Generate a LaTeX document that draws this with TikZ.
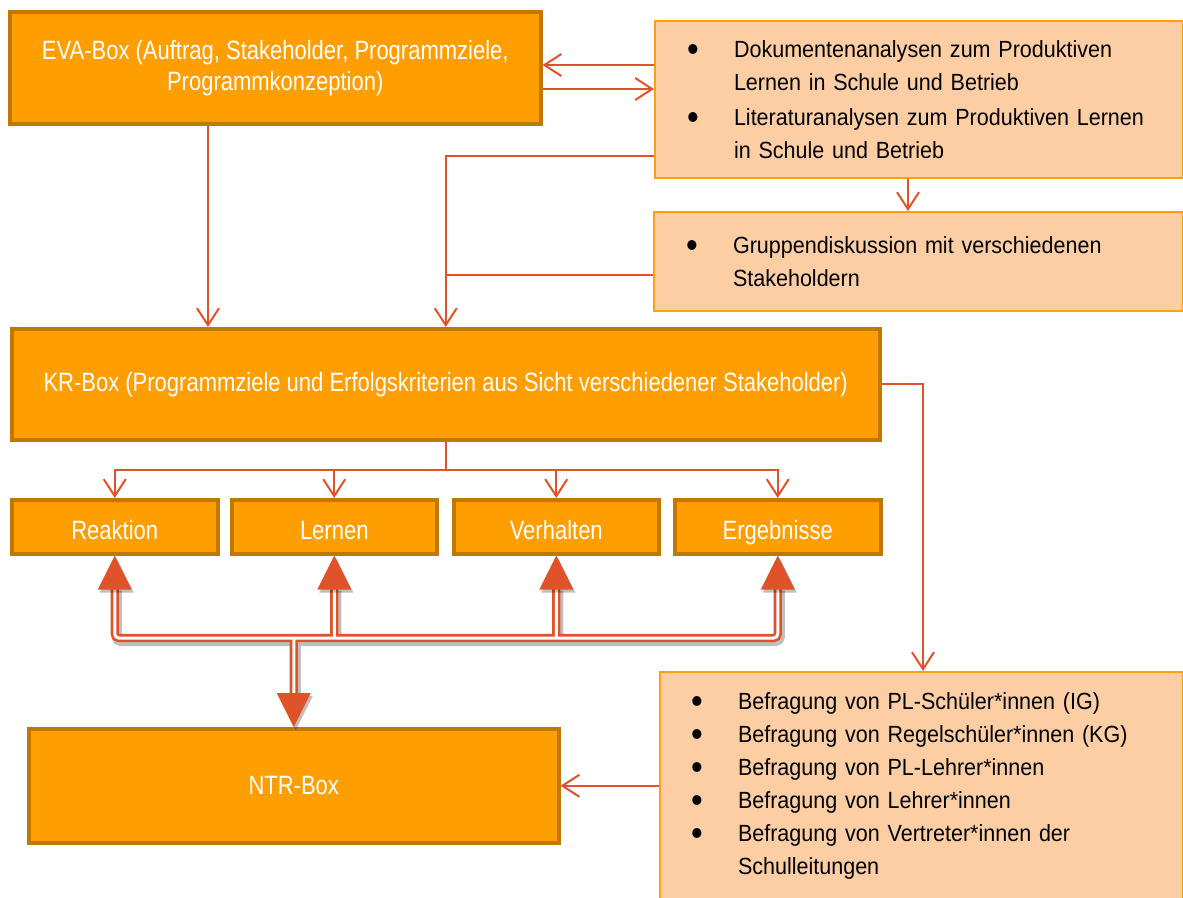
\documentclass[tikz,border=0pt]{standalone}
\usepackage{fontspec}
\setmainfont{Liberation Sans}
\newfontfamily\wfont[FakeStretch=0.83]{Liberation Sans}
\newfontfamily\kfont[FakeStretch=0.92]{Liberation Sans}
\usetikzlibrary{arrows.meta,calc}
\definecolor{dorange}{RGB}{255,158,0}
\definecolor{dborder}{RGB}{192,120,0}
\definecolor{peach}{RGB}{253,206,164}
\definecolor{pborder}{RGB}{255,160,20}
\definecolor{conred}{RGB}{224,83,42}
\newcommand{\myitem}[1]{\makebox[47pt][l]{\raisebox{-0.17em}{\scalebox{1.55}{\textbullet}}}#1}
\newcommand{\mycont}[1]{\hspace*{47pt}#1}
\tikzset{
  darkbox/.style={draw=dborder, line width=3.5pt, fill=dorange, text=white,
    inner sep=0pt, anchor=north west, align=center,
    font=\wfont\fontsize{26.5}{31}\selectfont},
  smallbox/.style={darkbox, minimum height=54pt, text height=26pt, text depth=0pt},
  lightbox/.style={draw=pborder, line width=2pt, fill=peach, text=black,
    inner sep=0pt, inner xsep=32pt, anchor=north west, align=left,
    font=\kfont\fontsize{23.4}{33}\selectfont},
  conn/.style={draw=conred, line width=2pt,
    -{Straight Barb[length=17pt,width=22pt]}},
  plainline/.style={draw=conred, line width=2pt},
  pipe/.style={draw=conred, line width=2.6pt, double=white,
    double distance=3pt, rounded corners=4pt},
  pipeshadow/.style={draw=black, opacity=0.25, line width=10pt,
    rounded corners=4pt, transform canvas={shift={(2pt,-3pt)}}},
  bigtip/.style={fill=conred},
  tipshadow/.style={fill=black, opacity=0.25,
    transform canvas={shift={(2pt,-3pt)}}},
}
\begin{document}
\begin{tikzpicture}[x=1pt,y=-1pt]
\useasboundingbox (0,0) rectangle (1183,897);

% dark boxes
\node[darkbox, minimum width=531pt, minimum height=112pt] (eva) at (8,10)
  {EVA-Box (Auftrag, Stakeholder, Programmziele,\\Programmkonzeption)};
\node[darkbox, minimum width=868pt, minimum height=111pt] (kr) at (10,327)
  {KR-Box (Programmziele und Erfolgskriterien aus Sicht verschiedener Stakeholder)};
\node[smallbox, minimum width=206pt] (reak) at (10,498) {Reaktion};
\node[smallbox, minimum width=205pt] (lern) at (230,498) {Lernen};
\node[smallbox, minimum width=205pt] (verh) at (452,498) {Verhalten};
\node[smallbox, minimum width=206pt] (erg) at (673,498) {Ergebnisse};
\node[darkbox, minimum width=530pt, minimum height=114pt] (ntr) at (27,727) {NTR-Box};

% light boxes
\node[lightbox, text width=464pt, minimum height=157pt] (b1) at (654,20)
  {\myitem{Dokumentenanalysen zum Produktiven}\\
   \mycont{Lernen in Schule und Betrieb}\\[2pt]
   \myitem{Literaturanalysen zum Produktiven Lernen}\\
   \mycont{in Schule und Betrieb}};
\node[lightbox, text width=465pt, minimum height=99pt] (b2) at (653,211)
  {\myitem{Gruppendiskussion mit verschiedenen}\\
   \mycont{Stakeholdern}};
\node[lightbox, inner xsep=31pt, text width=461pt, minimum height=228pt] (b3) at (659,671)
  {\myitem{Befragung von PL-Schüler*innen (IG)}\\
   \myitem{Befragung von Regelschüler*innen (KG)}\\
   \myitem{Befragung von PL-Lehrer*innen}\\
   \myitem{Befragung von Lehrer*innen}\\
   \myitem{Befragung von Vertreter*innen der}\\
   \mycont{Schulleitungen}};

% thin connectors
\draw[conn] (b1.west |- 0,65) -- (eva.east |- 0,65);
\draw[conn] (eva.east |- 0,89) -- (b1.west |- 0,89);
\draw[conn] (b1.west |- 0,156) -| (kr.north);
\draw[plainline] (b2.west |- 0,275) -- (kr.north |- 0,275);
\draw[conn] (eva.south -| 208,0) -- (kr.north -| 208,0);
\draw[conn] (b1.south -| 908,0) -- (b2.north -| 908,0);
\draw[conn] (kr.east) -| (b3.north -| 923,0);
\draw[conn] (b3.west |- ntr.east) -- (ntr.east);
\coordinate (split) at (kr.south |- 0,470);
\draw[plainline] (kr.south) -- (split);
\foreach \n in {reak,lern,verh,erg} \draw[conn] (split) -| (\n.north);

% big double-line network
\coordinate (hub) at (ntr.north |- 0,638);
\foreach \st in {pipeshadow,pipe} {
  \draw[\st] ($(reak.south)+(0,32)$) |- (hub) -| ($(erg.south)+(0,32)$)
    (hub) -- ($(ntr.north)+(0,-32)$)
    ($(lern.south)+(0,32)$) -- (lern.south |- hub)
    ($(verh.south)+(0,32)$) -- (verh.south |- hub);
}
\foreach \st in {tipshadow,bigtip} {
  \foreach \n in {reak,lern,verh,erg}
    \fill[\st] (\n.south) -- ++(-17,34) -- ++(34,0) -- cycle;
  \fill[\st] (ntr.north) -- ++(-17,-34) -- ++(34,0) -- cycle;
}
\end{tikzpicture}
\end{document}
